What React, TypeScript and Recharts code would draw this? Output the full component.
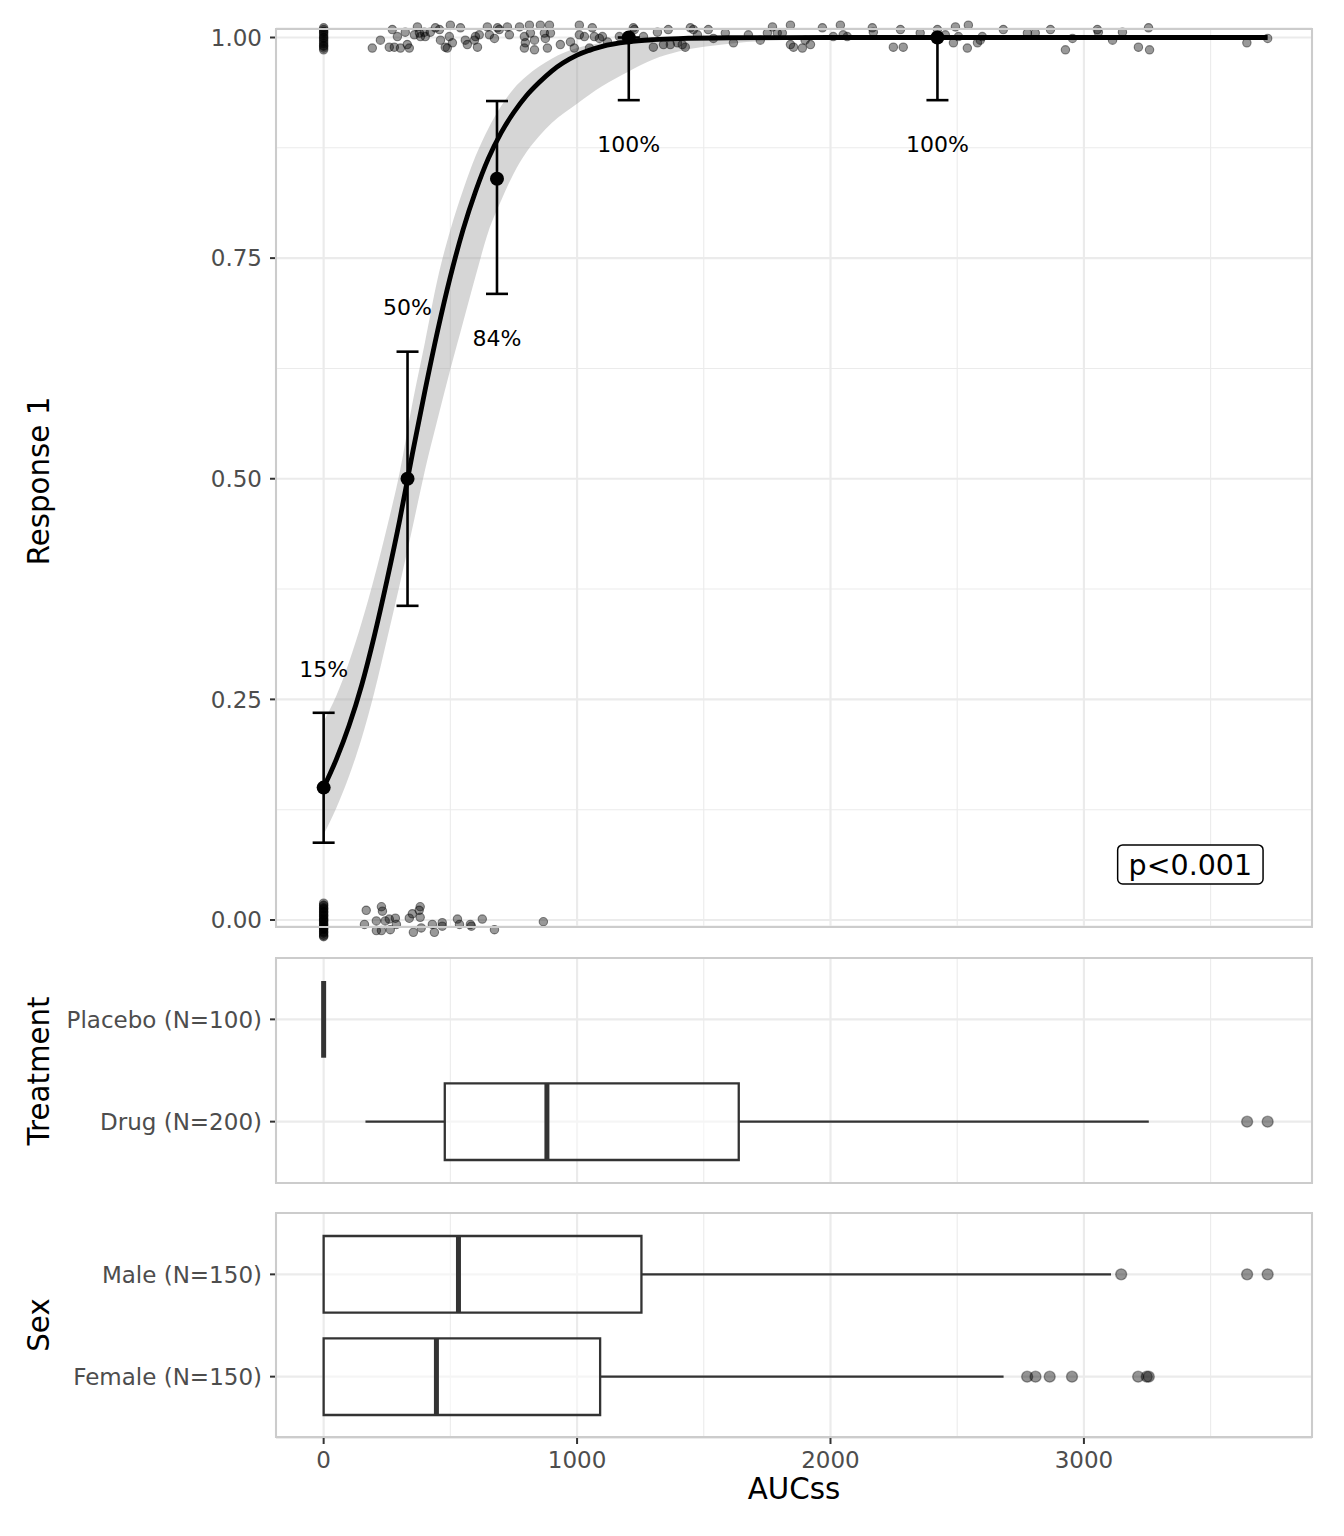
import React from "react";
import {
  ComposedChart,
  XAxis,
  YAxis,
  CartesianGrid,
  Area,
  Line,
  Scatter,
  ErrorBar,
  ReferenceArea,
  ReferenceLine,
} from "recharts";

const FONT = "DejaVu Sans";

const X_DOMAIN: [number, number] = [-188, 3900];
const Y_DOMAIN: [number, number] = [-0.0076, 1.0102];
// same scale, 20px of headroom on both sides so jittered points are not clipped
const Y_DOMAIN_WIDE: [number, number] = [-0.030263, 1.032863];
const X_MAJOR = [0, 1000, 2000, 3000];
const X_MINOR = [500, 1500, 2500, 3500];
const Y_MAJOR = [0, 0.25, 0.5, 0.75, 1];
const Y_MINOR = [0.125, 0.375, 0.625, 0.875];

// logistic fit and its ribbon
const curveX = [0, 50, 100, 150, 200, 250, 300, 350, 400, 450, 500, 550, 600, 650, 700, 750, 800, 850, 900, 1000, 1100, 1200, 1300, 1400, 1600, 1800, 2000, 2500, 3000, 3725];
const curveFit = [0.15, 0.182, 0.22, 0.266, 0.322, 0.385, 0.453, 0.528, 0.6, 0.668, 0.729, 0.782, 0.826, 0.863, 0.892, 0.915, 0.934, 0.949, 0.962, 0.98, 0.99, 0.995, 0.9975, 0.9988, 0.9997, 0.9999, 1, 1, 1, 1];
const curveHi = [0.225, 0.254, 0.292, 0.337, 0.388, 0.445, 0.507, 0.585, 0.655, 0.727, 0.782, 0.827, 0.866, 0.897, 0.922, 0.942, 0.956, 0.967, 0.976, 0.988, 0.994, 0.997, 0.9985, 0.9993, 0.9998, 1, 1, 1, 1, 1];
const curveLo = [0.097, 0.127, 0.163, 0.206, 0.258, 0.318, 0.38, 0.444, 0.51, 0.568, 0.624, 0.677, 0.73, 0.78, 0.815, 0.846, 0.87, 0.888, 0.903, 0.925, 0.945, 0.961, 0.975, 0.984, 0.993, 0.997, 0.999, 1, 1, 1];

// observed proportion per exposure bin
const binX = [0, 331, 684, 1204, 2422];
const binP = [0.15, 0.5, 0.84, 1, 1];
const binLo = [0.0876, 0.356, 0.7095, 0.929, 0.929];
const binHi = [0.2348, 0.644, 0.928, 1, 1];
const binLabel = ["15%", "50%", "84%", "100%", "100%"];

// individual responses (jittered vertically)
const placeboYes = [1.011, 1.009, 1.007, 1.006, 1.004, 1.002, 1.0, 0.999, 0.997, 0.995, 0.993, 0.991, 0.99, 0.988, 0.986];
const placeboNo = [0.019, 0.017, 0.016, 0.014, 0.013, 0.012, 0.01, 0.009, 0.008, 0.006, 0.005, 0.004, 0.002, 0.001, 0.0, -0.001, -0.002, -0.004, -0.005, -0.006, -0.008, -0.009, -0.01, -0.011, -0.013, -0.014, -0.015, -0.017, -0.018, -0.019];
const drugYes: [number, number][] = [
  [192, 0.988], [224, 0.997], [259, 0.989], [271, 1.009], [279, 0.989], [291, 1.001], [303, 0.988], [322, 1.006],
  [330, 0.992], [338, 0.988], [358, 1.003], [370, 1.012], [378, 1.005], [382, 1.001], [397, 1.006], [401, 1.001],
  [421, 1.006], [441, 1.011], [457, 1.009], [461, 0.997], [480, 0.989], [488, 0.988], [496, 1.001], [500, 1.014],
  [508, 0.994], [540, 1.011], [559, 0.997], [567, 0.992], [595, 0.997], [599, 1.001], [607, 0.989], [614, 1.003],
  [646, 1.012], [654, 1.003], [674, 0.999], [686, 1.011], [693, 1.009], [725, 1.012], [733, 1.003], [773, 1.012],
  [792, 1.001], [796, 0.994], [792, 0.988], [812, 1.014], [816, 1.005], [832, 0.997], [832, 0.986], [855, 1.014],
  [871, 1.005], [875, 0.999], [883, 0.988], [891, 1.014], [895, 1.005], [934, 0.992], [974, 0.995], [989, 0.988],
  [1009, 1.014], [1009, 1.003], [1029, 1.001], [1049, 0.988], [1060, 1.011], [1068, 1.001], [1088, 0.999], [1100, 1.001],
  [1120, 0.995], [1167, 1.001], [1226, 1.009], [1222, 1.011], [1262, 1.001], [1301, 0.989], [1317, 1.006], [1341, 0.992],
  [1360, 1.009], [1368, 0.992], [1396, 0.994], [1415, 0.992], [1427, 0.989], [1447, 1.011], [1459, 1.009], [1475, 1.003],
  [1518, 1.009], [1538, 0.999], [1585, 1.005], [1617, 0.994], [1676, 1.003], [1723, 0.997], [1751, 1.005], [1771, 1.012],
  [1790, 1.005], [1810, 1.005], [1842, 1.014], [1842, 0.992], [1854, 0.989], [1889, 0.988], [1900, 0.997], [1921, 0.992],
  [1968, 1.011], [2011, 1.001], [2039, 1.014], [2050, 1.003], [2066, 1.001], [2165, 1.011], [2169, 1.006], [2248, 0.989],
  [2276, 1.009], [2287, 0.989], [2354, 1.005], [2422, 1.009], [2453, 1.003], [2485, 0.994], [2493, 1.012], [2505, 1.001],
  [2540, 0.988], [2544, 1.014], [2580, 0.994], [2591, 0.997], [2599, 1.001], [2682, 1.009], [2777, 1.005], [2808, 1.005],
  [2868, 1.009], [2927, 0.986], [2955, 0.999], [3053, 1.009], [3057, 1.006], [3113, 0.997], [3152, 1.006], [3215, 0.989],
  [3255, 1.011], [3259, 0.986], [3643, 0.994], [3725, 0.999],
];
const drugNo: [number, number][] = [
  [168, 0.011], [161, -0.005], [208, -0.001], [208, -0.012], [228, 0.015], [232, 0.01], [228, -0.012], [243, -0.001],
  [259, 0.001], [263, -0.011], [283, 0.002], [287, -0.005], [338, 0.002], [350, 0.007], [354, -0.014], [377, 0.011],
  [381, 0.015], [381, 0.003], [385, -0.009], [429, -0.005], [437, -0.014], [468, -0.003], [468, -0.007], [528, 0.001],
  [536, -0.005], [579, -0.005], [583, -0.007], [626, 0.001], [674, -0.011], [867, -0.002],
];

const pValueText = "p<0.001";
const pValueAt = { x: 3420, y: 0.063 };

// exposure by subgroup (bottom group first)
type BoxStat = { lo: number; q1: number; med: number; q3: number; hi: number };
const treatmentGroups = ["Drug (N=200)", "Placebo (N=100)"];
const treatmentStats: BoxStat[] = [
  { lo: 165, q1: 478, med: 881, q3: 1638, hi: 3256 },
  { lo: 0, q1: 0, med: 0, q3: 0, hi: 0 },
];
const treatmentOutliers = [[3644, 3725], []];

const sexGroups = ["Female (N=150)", "Male (N=150)"];
const sexStats: BoxStat[] = [
  { lo: 0, q1: 0, med: 445, q3: 1091, hi: 2683 },
  { lo: 0, q1: 0, med: 532, q3: 1254, hi: 3107 },
];
const sexOutliers = [
  [2776, 2809, 2865, 2953, 3214, 3248, 3256],
  [3147, 3644, 3725],
];

const curveRows = curveX.map((x, i) => ({ x, fit: curveFit[i], band: [curveLo[i], curveHi[i]] }));
const binRows = binX.map((x, i) => ({ x, y: binP[i], err: [binP[i] - binLo[i], binHi[i] - binP[i]] }));
const labelRows = binX.map((x, i) => ({
  x,
  y: binP[i] <= 0.5 ? binHi[i] + 0.05 : binLo[i] - 0.05,
  label: binLabel[i],
}));
const jitterRows = [
  ...placeboYes.map((y) => ({ x: 0, y })),
  ...placeboNo.map((y) => ({ x: 0, y })),
  ...drugYes.map(([x, y]) => ({ x, y })),
  ...drugNo.map(([x, y]) => ({ x, y })),
];

const tickStyle = { fill: "#4D4D4D", fontSize: 23, fontFamily: FONT };
const tickLineStyle = { stroke: "#333333", strokeWidth: 2 };
const GRID = "#EBEBEB";

const jitterDot = (p: any) => (
  <circle cx={p.cx} cy={p.cy} r={4.2} fill="#000" fillOpacity={0.4} stroke="#000" strokeOpacity={0.45} strokeWidth={1.1} />
);
const outlierDot = (p: any) => (
  <circle cx={p.cx} cy={p.cy} r={5.5} fill="#000" fillOpacity={0.42} stroke="#000" strokeOpacity={0.35} strokeWidth={1.4} />
);
const binDot = (p: any) => <circle cx={p.cx} cy={p.cy} r={7} fill="#000" />;
const pctLabel = (p: any) => (
  <text x={p.cx} y={p.cy} dy="0.36em" textAnchor="middle" fontSize={22} fontFamily={FONT} fill="#000">
    {p.payload.label}
  </text>
);
const pBox = (p: any) => (
  <g>
    <rect x={p.cx - 72.7} y={p.cy - 19.5} width={145.4} height={39} rx={5} fill="#fff" stroke="#000" strokeWidth={1.5} />
    <text x={p.cx} y={p.cy} dy="0.36em" textAnchor="middle" fontSize={28.5} fontFamily={FONT} fill="#000">
      {pValueText}
    </text>
  </g>
);

function Border({ top, height }: { top: number; height: number }) {
  return (
    <div
      style={{
        position: "absolute",
        left: 275,
        top: top - 1,
        width: 1038,
        height: height + 2,
        border: "2px solid #CCCCCC",
        boxSizing: "border-box",
        pointerEvents: "none",
      }}
    />
  );
}

function Title({ text, x, y, rotate }: { text: string; x: number; y: number; rotate?: boolean }) {
  return (
    <div
      style={{
        position: "absolute",
        left: x,
        top: y,
        transform: `translate(-50%, -50%)${rotate ? " rotate(-90deg)" : ""}`,
        fontFamily: FONT,
        fontSize: 29.3,
        lineHeight: 1,
        whiteSpace: "nowrap",
        color: "#000",
      }}
    >
      {text}
    </div>
  );
}

function BoxPanel({
  top,
  labels,
  stats,
  outliers,
  showXAxis,
}: {
  top: number;
  labels: string[];
  stats: BoxStat[];
  outliers: number[][];
  showXAxis: boolean;
}) {
  const plotH = 225;
  const axisH = showXAxis ? 45 : 0;
  const half = 0.375;
  const outlierRows = outliers.flatMap((xs, i) => xs.map((x) => ({ x, y: i + 1 })));
  return (
    <div style={{ position: "absolute", left: 0, top }}>
      <ComposedChart width={1344} height={plotH + axisH} margin={{ top: 0, right: 32, bottom: 0, left: 0 }}>
        <XAxis
          type="number"
          dataKey="x"
          domain={X_DOMAIN}
          allowDataOverflow
          ticks={X_MAJOR}
          hide={!showXAxis}
          height={axisH}
          axisLine={false}
          tickLine={tickLineStyle}
          tickSize={6}
          tickMargin={7.5}
          tick={tickStyle}
          interval={0}
        />
        <XAxis xAxisId="minor" type="number" dataKey="x" domain={X_DOMAIN} allowDataOverflow ticks={X_MINOR} hide />
        <YAxis
          type="number"
          domain={[0.4, 2.6]}
          allowDataOverflow
          ticks={[1, 2]}
          interval={0}
          tickFormatter={(v: number) => labels[v - 1]}
          width={276}
          axisLine={false}
          tickLine={tickLineStyle}
          tickSize={6}
          tickMargin={8}
          tick={tickStyle}
        />
        <CartesianGrid xAxisId="minor" horizontal={false} stroke={GRID} strokeWidth={1.1} />
        <CartesianGrid stroke={GRID} strokeWidth={2.2} />
        {stats.map((s, i) =>
          s.q3 > s.q1 ? (
            <ReferenceArea
              key={`box-${i}`}
              x1={s.q1}
              x2={s.q3}
              y1={i + 1 - half}
              y2={i + 1 + half}
              fill="#fff"
              fillOpacity={0.5}
              stroke="#333333"
              strokeWidth={2.3}
              ifOverflow="visible"
            />
          ) : null
        )}
        {stats.map((s, i) =>
          s.q1 > s.lo ? (
            <ReferenceLine
              key={`wl-${i}`}
              segment={[{ x: s.lo, y: i + 1 }, { x: s.q1, y: i + 1 }]}
              stroke="#333333"
              strokeWidth={2.3}
              ifOverflow="visible"
            />
          ) : null
        )}
        {stats.map((s, i) =>
          s.hi > s.q3 ? (
            <ReferenceLine
              key={`wh-${i}`}
              segment={[{ x: s.q3, y: i + 1 }, { x: s.hi, y: i + 1 }]}
              stroke="#333333"
              strokeWidth={2.3}
              ifOverflow="visible"
            />
          ) : null
        )}
        {stats.map((s, i) => (
          <ReferenceLine
            key={`med-${i}`}
            segment={[{ x: s.med, y: i + 1 - half }, { x: s.med, y: i + 1 + half }]}
            stroke="#333333"
            strokeWidth={5}
            ifOverflow="visible"
          />
        ))}
        <Scatter data={outlierRows} dataKey="y" shape={outlierDot} isAnimationActive={false} />
      </ComposedChart>
    </div>
  );
}

export default function App() {
  return (
    <div style={{ position: "absolute", left: 0, top: 0, width: 1344, height: 1536, background: "#fff" }}>
      <div style={{ position: "absolute", left: 0, top: 0 }}>
        <ComposedChart
          width={1344}
          height={940}
          data={curveRows}
          margin={{ top: 28.5, right: 32, bottom: 13.3, left: 0 }}
        >
          <XAxis type="number" dataKey="x" domain={X_DOMAIN} allowDataOverflow ticks={X_MAJOR} hide />
          <XAxis xAxisId="minor" type="number" dataKey="x" domain={X_DOMAIN} allowDataOverflow ticks={X_MINOR} hide />
          <YAxis
            type="number"
            domain={Y_DOMAIN}
            allowDataOverflow
            ticks={Y_MAJOR}
            interval={0}
            tickFormatter={(v: number) => v.toFixed(2)}
            width={276}
            axisLine={false}
            tickLine={tickLineStyle}
            tickSize={6}
            tickMargin={8}
            tick={tickStyle}
          />
          <YAxis yAxisId="minor" type="number" domain={Y_DOMAIN} allowDataOverflow ticks={Y_MINOR} hide />
          <CartesianGrid xAxisId="minor" yAxisId="minor" stroke={GRID} strokeWidth={1.1} />
          <CartesianGrid stroke={GRID} strokeWidth={2.2} />
          <Area
            type="monotone"
            dataKey="band"
            fill="#999999"
            fillOpacity={0.4}
            stroke="none"
            isAnimationActive={false}
            activeDot={false}
          />
          <Line
            type="monotone"
            dataKey="fit"
            stroke="#000"
            strokeWidth={4.8}
            dot={false}
            activeDot={false}
            isAnimationActive={false}
          />
          <Scatter data={binRows} dataKey="y" shape={binDot} isAnimationActive={false}>
            <ErrorBar dataKey="err" direction="y" width={11} stroke="#000" strokeWidth={2.6} />
          </Scatter>
          <Scatter data={labelRows} dataKey="y" shape={pctLabel} isAnimationActive={false} />
          <Scatter data={[pValueAt]} dataKey="y" shape={pBox} isAnimationActive={false} />
        </ComposedChart>
      </div>
      {/* jittered responses on an identical scale, drawn unclipped */}
      <div style={{ position: "absolute", left: 0, top: 0, pointerEvents: "none" }}>
        <ComposedChart width={1344} height={980} margin={{ top: 8.5, right: 32, bottom: 33.3, left: 276 }}>
          <XAxis type="number" dataKey="x" domain={X_DOMAIN} hide />
          <YAxis type="number" domain={Y_DOMAIN_WIDE} hide />
          <Scatter data={jitterRows} dataKey="y" shape={jitterDot} isAnimationActive={false} />
        </ComposedChart>
      </div>
      <BoxPanel top={957.9} labels={treatmentGroups} stats={treatmentStats} outliers={treatmentOutliers} showXAxis={false} />
      <BoxPanel top={1212.6} labels={sexGroups} stats={sexStats} outliers={sexOutliers} showXAxis={true} />
      <Border top={28.5} height={898.2} />
      <Border top={957.9} height={225.2} />
      <Border top={1212.6} height={224.8} />
      <Title text="Response 1" x={40} y={480.5} rotate />
      <Title text="Treatment" x={40} y={1070.5} rotate />
      <Title text="Sex" x={40} y={1325} rotate />
      <Title text="AUCss" x={794} y={1489.5} />
    </div>
  );
}
